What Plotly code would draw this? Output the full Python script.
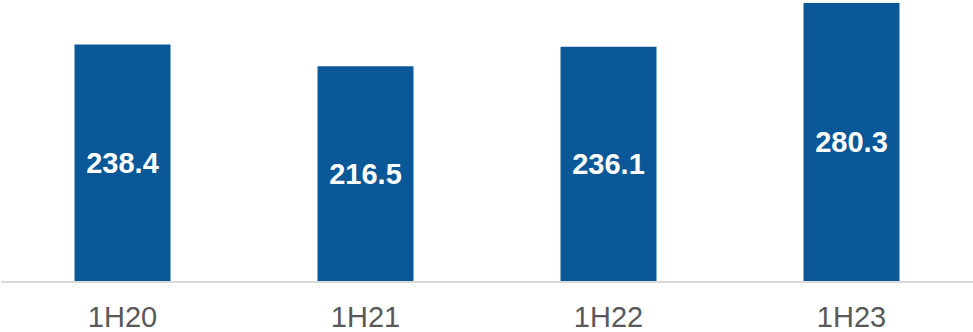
import plotly.graph_objects as go

categories = ["1H20", "1H21", "1H22", "1H23"]
values = [238.4, 216.5, 236.1, 280.3]
labels = ["238.4", "216.5", "236.1", "280.3"]

fig = go.Figure(go.Bar(
    x=categories, y=values, text=labels,
    textposition="inside", insidetextanchor="middle",
    textfont=dict(family="Liberation Sans, Arial", size=29, color="white", weight="bold"),
    marker=dict(color="#0B5899", line=dict(width=0)),
    cliponaxis=False,
))
fig.update_layout(
    width=973, height=332,
    margin=dict(l=1, r=0, t=0, b=51, autoexpand=False),
    plot_bgcolor="white", paper_bgcolor="white",
    bargap=0.605,
    showlegend=False,
    uniformtext=dict(minsize=8, mode=False),
)
fig.update_xaxes(
    showline=True, linecolor="#D9D9D9", linewidth=2,
    tickfont=dict(family="Liberation Sans, Arial", size=29, color="#595959"),
    ticks="", ticklen=0, automargin=False, ticklabelstandoff=9,
)
fig.update_yaxes(range=[0, 283.3], visible=False, showgrid=False, automargin=False)
fig.write_html(
    "out.html",
    config={"displayModeBar": False},
    post_script="document.body.style.margin='0';document.body.style.overflow='hidden';",
)
